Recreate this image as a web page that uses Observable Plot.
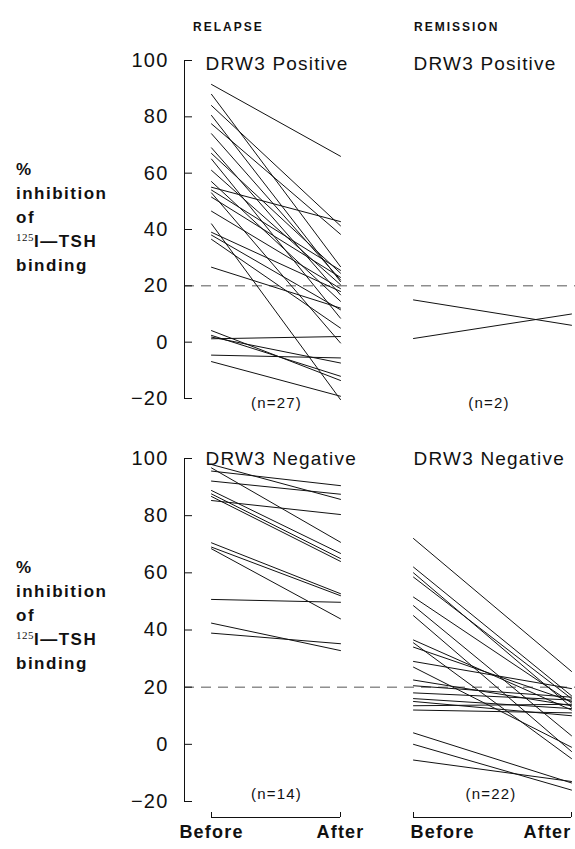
<!DOCTYPE html>
<html>
<head>
<meta charset="utf-8">
<script src="https://cdn.jsdelivr.net/npm/d3@7"></script>
<script src="https://cdn.jsdelivr.net/npm/@observablehq/plot@0.6"></script>
<style>
  body { margin: 0; background: #fff; }
  #wrap { position: relative; width: 575px; height: 849px; overflow: hidden;
          font-family: "Liberation Sans", Arial, Helvetica, sans-serif; color: #111; }
  .cell { position: absolute; }
  .hdr { position: absolute; font-weight: bold; font-size: 12px; letter-spacing: 2px; line-height: 14px; }
  .ylab { position: absolute; left: 16px; font-weight: bold; font-size: 17px; letter-spacing: 1.5px; line-height: 24px; }
  .ylab sup { font-family: "Liberation Serif", "DejaVu Serif", serif; font-weight: normal; font-size: 11px;
              letter-spacing: 0.5px; vertical-align: 6px; line-height: 0; }
</style>
</head>
<body>
<div id="wrap">
  <div class="hdr" style="left:193px; top:20px">RELAPSE</div>
  <div class="hdr" style="left:414px; top:20px">REMISSION</div>
  <div class="ylab" style="top:158px">%<br>inhibition<br>of<br><sup>125</sup>I—TSH<br>binding</div>
  <div class="ylab" style="top:556px">%<br>inhibition<br>of<br><sup>125</sup>I—TSH<br>binding</div>
  <div id="p1" class="cell" style="left:0px; top:0px"></div>
  <div id="p2" class="cell" style="left:370px; top:0px"></div>
  <div id="p3" class="cell" style="left:0px; top:400px"></div>
  <div id="p4" class="cell" style="left:370px; top:400px"></div>
</div>
<script>
// ---------- data ----------
const times = ["Before", "After"];
const yTicks = [100, 80, 60, 40, 20, 0, -20];
const threshold = 20;

const relapsePosBefore = [91.5, 88, 84, 80.5, 77.5, 74, 69, 67, 65, 61, 57, 55, 54, 53, 51.5, 46.5, 42, 39, 38, 36.5, 26.6, 4.1, 2.4, 1.8, 1.2, -4.6, -6.9];
const relapsePosAfter  = [66, 26.8, 41.3, 21.5, 38.3, 22.1, 16.8, 24.5, 8.5, 20.4, 14.5, 42.8, 25.5, -0.3, 23, 19, -20.4, 18, 11.5, 5, 12.1, -13.6, -12.1, -7.4, 2, -5.6, -19.2];

const remissionPosBefore = [15, 1.3];
const remissionPosAfter  = [6, 10];

const relapseNegBefore = [97.9, 96.7, 95.6, 92.1, 88.8, 87.6, 86.7, 85.3, 70.5, 69, 68.4, 50.7, 42.4, 38.9];
const relapseNegAfter  = [85.7, 70.7, 90.5, 87.5, 66.8, 65, 64, 80.4, 52.7, 52, 43.9, 49.7, 32.8, 35.2];

const remissionNegBefore = [72, 62, 60, 58.5, 51.5, 48.5, 45, 36.5, 35.5, 34, 29, 27, 22.5, 20.5, 18, 16, 15, 13.5, 12, 4, 0, -5.5];
const remissionNegAfter  = [25.5, 17, 13, 16, 14.5, 3, -2.5, 12, -5, 15, 19.5, -1, 13.5, 16.5, 15.5, 12.5, 10, 14, 11, -13.5, -16, -13];

const panelTitles = ["DRW3 Positive", "DRW3 Positive", "DRW3 Negative", "DRW3 Negative"];

// ---------- helpers ----------
const yMin = d3.min(yTicks), yMax = d3.max(yTicks);
const fmt = d => d < 0 ? "\u2212" + Math.abs(d) : String(d);

function rows(before, after) {
  return before.flatMap((b, i) => [
    {id: i, time: times[0], value: b},
    {id: i, time: times[1], value: after[i]}
  ]);
}

function panel(cfg) {
  const left = cfg.side === "left";
  const marks = [
    Plot.ruleY([threshold], {stroke: "#555", strokeWidth: 1, strokeDasharray: "10,7"}),
    Plot.line(rows(cfg.before, cfg.after), {x: "time", y: "value", z: "id", stroke: "#111", strokeWidth: 1}),
    Plot.text([cfg.title], {x: () => times[0], frameAnchor: "top", dy: cfg.titleDy, dx: cfg.titleDx,
      textAnchor: "start", fontSize: 19, fill: "#111"}),
    Plot.text([`(n=${cfg.before.length})`], {frameAnchor: "bottom", dy: cfg.nDy, dx: cfg.nDx, fontSize: 15, fill: "#111"})
  ];
  if (left) {
    marks.push(Plot.frame({anchor: "left", stroke: "#111", strokeWidth: 1}));
    marks.push(Plot.axisY({ticks: yTicks, tickSize: -8, tickPadding: 24, tickFormat: fmt,
      fontSize: 20, label: null, stroke: "#111", fill: "#111"}));
  }
  if (cfg.bottom) {
    marks.push(Plot.ruleY([{y: yMin, a: times[0], b: times[1]}], {y: "y", x1: "a", x2: "b", dy: 16, stroke: "#111", strokeWidth: 1}));
    marks.push(Plot.axisX({tickSize: -5, dy: 16, tickFormat: () => "", label: null, stroke: "#111"}));
    if (left) {
      marks.push(Plot.text(times, {x: d => d, frameAnchor: "bottom", dy: 36, fontSize: 18, fontWeight: "bold", fill: "#111"}));
    } else {
      marks.push(Plot.text([times[0]], {x: d => d, frameAnchor: "bottom", dy: 36, dx: -3, textAnchor: "start", fontSize: 18, fontWeight: "bold", fill: "#111"}));
      marks.push(Plot.text([times[1]], {x: d => d, frameAnchor: "bottom", dy: 36, dx: 0, textAnchor: "end", fontSize: 18, fontWeight: "bold", fill: "#111"}));
    }
  }
  return Plot.plot({
    width: cfg.width,
    height: cfg.height,
    marginLeft: cfg.marginLeft,
    marginRight: 0,
    marginTop: cfg.marginTop,
    marginBottom: cfg.marginBottom,
    style: {fontFamily: "'Liberation Sans', Arial, Helvetica, sans-serif", fontSize: "15px",
            color: "#111", background: "transparent", overflow: "visible", letterSpacing: "1.2px"},
    x: {type: "point", domain: times, padding: 0, insetLeft: cfg.insetLeft, insetRight: cfg.insetRight,
        axis: cfg.bottom ? undefined : null},
    y: {domain: [yMin, yMax], axis: left ? undefined : null},
    marks
  });
}

document.getElementById("p1").append(panel({
  side: "left", bottom: false, before: relapsePosBefore, after: relapsePosAfter, title: panelTitles[0],
  width: 370, height: 420, marginLeft: 184, marginTop: 60, marginBottom: 22,
  insetLeft: 27, insetRight: 30, titleDx: -6, titleDy: -4, nDy: 9, nDx: -1
}));
document.getElementById("p2").append(panel({
  side: "right", bottom: false, before: remissionPosBefore, after: remissionPosAfter, title: panelTitles[1],
  width: 205, height: 420, marginLeft: 0, marginTop: 60, marginBottom: 22,
  insetLeft: 43, insetRight: 4, titleDx: 0, titleDy: -4, nDy: 9, nDx: 16
}));
document.getElementById("p3").append(panel({
  side: "left", bottom: true, before: relapseNegBefore, after: relapseNegAfter, title: panelTitles[2],
  width: 370, height: 449, marginLeft: 184, marginTop: 58, marginBottom: 48,
  insetLeft: 27, insetRight: 30, titleDx: -6, titleDy: -7, nDy: -3, nDx: -1
}));
document.getElementById("p4").append(panel({
  side: "right", bottom: true, before: remissionNegBefore, after: remissionNegAfter, title: panelTitles[3],
  width: 205, height: 449, marginLeft: 0, marginTop: 58, marginBottom: 48,
  insetLeft: 43, insetRight: 4, titleDx: 0, titleDy: -7, nDy: -3, nDx: 18
}));
</script>
</body>
</html>
